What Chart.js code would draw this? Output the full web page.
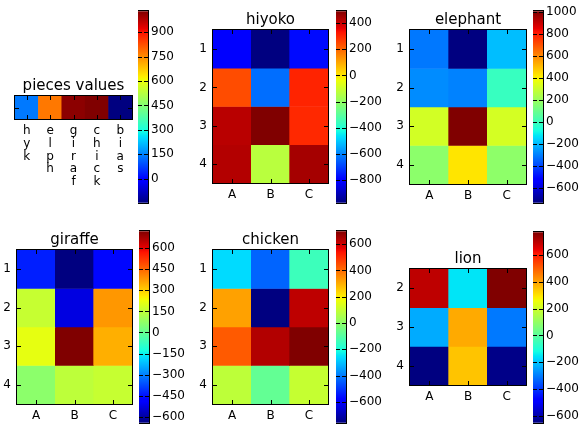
<!DOCTYPE html>
<html>
<head>
<meta charset="utf-8">
<script src="https://cdn.jsdelivr.net/npm/chart.js@4.4.1/dist/chart.umd.min.js"></script>
<style>
  html, body { margin: 0; padding: 0; background: #fff; }
  #page { position: relative; width: 582px; height: 427px; overflow: hidden; }
  .box { position: absolute; }
  .box canvas { display: block; }
</style>
</head>
<body>
<div id="page"></div>
<script>
// ---- data -------------------------------------------------------------
const cols = ['A', 'B', 'C'];
const rows = [1, 2, 3, 4];
const lionRows = [2, 3, 4];

const pieceNames = ['hyk', 'elph', 'giraf', 'chick', 'bias'];
const pieceValues = [139, 773, 1015, 1028, -147];

const hiyokoValues   = [[-810, -976, -780], [242, -634, 306], [419, 492, 298], [427, -132, 445]];
const elephantValues = [[-312, -736, -193], [-279, -296, -8], [320, 1009, 325], [171, 428, 175]];
const giraffeValues  = [[-432, -643, -466], [162, -528, 380], [216, 721, 345], [66, 148, 162]];
const chickenValues  = [[-263, -434, -142], [320, -759, 620], [429, 635, 699], [87, -74, 101]];
const lionValues     = [[694, -154, 771], [-236, 387, -306], [-652, 348, -642]];

const piecesTicks   = [0, 150, 300, 450, 600, 750, 900];
const hiyokoTicks   = [-800, -600, -400, -200, 0, 200, 400];
const elephantTicks = [-600, -400, -200, 0, 200, 400, 600, 800, 1000];
const giraffeTicks  = [-600, -450, -300, -150, 0, 150, 300, 450, 600];
const chickenTicks  = [-600, -400, -200, 0, 200, 400, 600];
const lionTicks     = [-600, -400, -200, 0, 200, 400, 600];

// ---- helpers ----------------------------------------------------------
const FONT = "'DejaVu Sans', sans-serif";
const page = document.getElementById('page');

// matplotlib "jet" segments
const JET = {
    r: [[0, 0], [0.35, 0], [0.66, 1], [0.89, 1], [1, 0.5]],
    g: [[0, 0], [0.125, 0], [0.375, 1], [0.64, 1], [0.91, 0], [1, 0]],
    b: [[0, 0.5], [0.11, 1], [0.34, 1], [0.65, 0], [1, 0]],
};
const JET_STOPS = [0, 0.11, 0.125, 0.34, 0.35, 0.375, 0.64, 0.65, 0.66, 0.89, 0.91, 1];

function seg(s, t) {
    for (let i = 1; i < s.length; i++) {
        if (t <= s[i][0]) {
            const [x0, y0] = s[i - 1], [x1, y1] = s[i];
            return y0 + (y1 - y0) * (t - x0) / (x1 - x0);
        }
    }
    return s[s.length - 1][1];
}
function jet(t) {
    t = Math.max(0, Math.min(1, t));
    const c = k => Math.round(255 * seg(JET[k], t));
    return `rgb(${c('r')},${c('g')},${c('b')})`;
}
const fmt = v => (v < 0 ? '\u2212' + Math.abs(v) : String(v));

// frame round the plot area + inward tick marks (classic matplotlib look)
const framePlugin = {
    id: 'frame',
    afterDraw(chart) {
        const { ctx, chartArea: a } = chart;
        const TL = 4;
        ctx.save();
        ctx.strokeStyle = '#000';
        ctx.lineWidth = 1;
        const line = (x0, y0, x1, y1) => { ctx.beginPath(); ctx.moveTo(x0, y0); ctx.lineTo(x1, y1); ctx.stroke(); };
        const xs = chart.scales.x, ys = chart.scales.y;
        if (xs && xs.options.display !== false) {
            xs.ticks.forEach((t, i) => {
                const px = Math.round(xs.getPixelForTick(i)) + 0.5;
                line(px, a.bottom, px, a.bottom - TL);
                line(px, a.top, px, a.top + TL);
            });
        }
        ys.ticks.forEach(t => {
            const py = Math.round(ys.getPixelForValue(t.value)) + 0.5;
            line(a.left, py, a.left + TL, py);
            line(a.right, py, a.right - TL, py);
        });
        ctx.strokeRect(Math.round(a.left) - 0.5, Math.round(a.top) - 0.5,
            Math.round(a.right - a.left) + 1, Math.round(a.bottom - a.top) + 1);
        ctx.restore();
    }
};

function makeBox(left, top, w, h) {
    const div = document.createElement('div');
    div.className = 'box';
    div.style.left = left + 'px';
    div.style.top = top + 'px';
    const cv = document.createElement('canvas');
    cv.width = w; cv.height = h;
    cv.style.width = w + 'px'; cv.style.height = h + 'px';
    div.appendChild(cv);
    page.appendChild(div);
    return cv;
}

const tickFont = { family: FONT, size: 12 };

function heatmap(p) {
    const AX = 40, RP = 4, TH = 22;
    const cv = makeBox(p.x - AX, p.y - TH, AX + p.w + RP, TH + p.h + p.xh);
    const flat = p.values.flat();
    const lo = Math.min(...flat), hi = Math.max(...flat);
    new Chart(cv, {
        type: 'bar',
        data: {
            labels: p.labels,
            datasets: p.rowNums.map((r, i) => ({
                data: p.labels.map(() => [r - 0.5, r + 0.5]),
                backgroundColor: p.values[i].map(v => jet((v - lo) / (hi - lo))),
                borderWidth: 0,
                grouped: false,
                barPercentage: 1,
                categoryPercentage: 1,
            })),
        },
        options: {
            responsive: false,
            animation: false,
            events: [],
            layout: { padding: { left: 0, right: RP, top: 0, bottom: 0 } },
            plugins: {
                legend: { display: false },
                tooltip: { enabled: false },
                title: {
                    display: true, text: p.title, fullSize: false, color: '#000',
                    font: { family: FONT, size: 15, weight: 'normal' },
                    padding: { top: 3, bottom: 1 },
                },
            },
            scales: {
                x: {
                    type: 'category',
                    grid: { display: false, drawTicks: false },
                    border: { display: false },
                    ticks: { color: '#000', font: { ...tickFont, lineHeight: 1.05 }, padding: 6, maxRotation: 0, autoSkip: false },
                    afterFit: s => { s.height = p.xh; },
                },
                y: {
                    type: 'linear',
                    reverse: true,
                    min: p.rowNums[0] - 0.5,
                    max: p.rowNums[p.rowNums.length - 1] + 0.5,
                    grid: { display: false, drawTicks: false },
                    border: { display: false },
                    ticks: { color: '#000', font: tickFont, padding: 6, autoSkip: false,
                             callback: v => (p.hideY ? '' : String(v)) },
                    afterBuildTicks: s => { s.ticks = p.rowNums.map(v => ({ value: v })); },
                    afterFit: s => { s.width = AX; },
                },
            },
        },
        plugins: [framePlugin],
    });
    return [lo, hi];
}

function colorbar(p, lo, hi) {
    const RW = 50, PAD = 10;
    const cv = makeBox(p.cx, p.cy - PAD, p.cw + RW, p.ch + 2 * PAD);
    new Chart(cv, {
        type: 'bar',
        data: {
            labels: [''],
            datasets: [{
                data: [[lo, hi]],
                backgroundColor: ctx => {
                    const y = ctx.chart.scales.y;
                    if (!ctx.chart.chartArea || !y) return 'rgba(0,0,0,0)';
                    const y0 = y.getPixelForValue(lo), y1 = y.getPixelForValue(hi);
                    if (!isFinite(y0) || !isFinite(y1) || y0 === y1) return 'rgba(0,0,0,0)';
                    const g = ctx.chart.ctx.createLinearGradient(0, y0, 0, y1);
                    JET_STOPS.forEach(s => g.addColorStop(s, jet(s)));
                    return g;
                },
                borderWidth: 0,
                barPercentage: 1,
                categoryPercentage: 1,
            }],
        },
        options: {
            responsive: false,
            animation: false,
            events: [],
            layout: { padding: { left: 0, right: 0, top: PAD, bottom: PAD } },
            plugins: { legend: { display: false }, tooltip: { enabled: false } },
            scales: {
                x: { type: 'category', display: false },
                y: {
                    type: 'linear',
                    position: 'right',
                    min: lo, max: hi,
                    grid: { display: false, drawTicks: false },
                    border: { display: false },
                    ticks: { color: '#000', font: tickFont, padding: 3, autoSkip: false, callback: v => fmt(v) },
                    afterBuildTicks: s => { s.ticks = p.cbTicks.map(v => ({ value: v })); },
                    afterFit: s => { s.width = RW; },
                },
            },
        },
        plugins: [framePlugin],
    });
}

// ---- panels (plot rect + colorbar rect in page pixels) ------------------
const panels = [
    { title: 'pieces values', labels: pieceNames.map(n => n.split('')), rowNums: [1], values: [pieceValues],
      hideY: true, cbTicks: piecesTicks, x: 15, y: 96, w: 117, h: 23, xh: 75, cx: 138, cy: 11, cw: 10, ch: 192 },
    { title: 'hiyoko', labels: cols, rowNums: rows, values: hiyokoValues, cbTicks: hiyokoTicks,
      x: 213, y: 30, w: 115, h: 153, xh: 24, cx: 336, cy: 11, cw: 10, ch: 192 },
    { title: 'elephant', labels: cols, rowNums: rows, values: elephantValues, cbTicks: elephantTicks,
      x: 410, y: 30, w: 116, h: 154, xh: 24, cx: 533, cy: 11, cw: 10, ch: 192 },
    { title: 'giraffe', labels: cols, rowNums: rows, values: giraffeValues, cbTicks: giraffeTicks,
      x: 17, y: 250, w: 115, h: 154, xh: 24, cx: 139, cy: 231, cw: 10, ch: 192 },
    { title: 'chicken', labels: cols, rowNums: rows, values: chickenValues, cbTicks: chickenTicks,
      x: 213, y: 250, w: 115, h: 154, xh: 24, cx: 336, cy: 231, cw: 10, ch: 192 },
    { title: 'lion', labels: cols, rowNums: lionRows, values: lionValues, cbTicks: lionTicks,
      x: 410, y: 269, w: 116, h: 116, xh: 24, cx: 533, cy: 232, cw: 10, ch: 191 },
];

panels.forEach(p => {
    const [lo, hi] = heatmap(p);
    colorbar(p, lo, hi);
});
</script>
</body>
</html>
